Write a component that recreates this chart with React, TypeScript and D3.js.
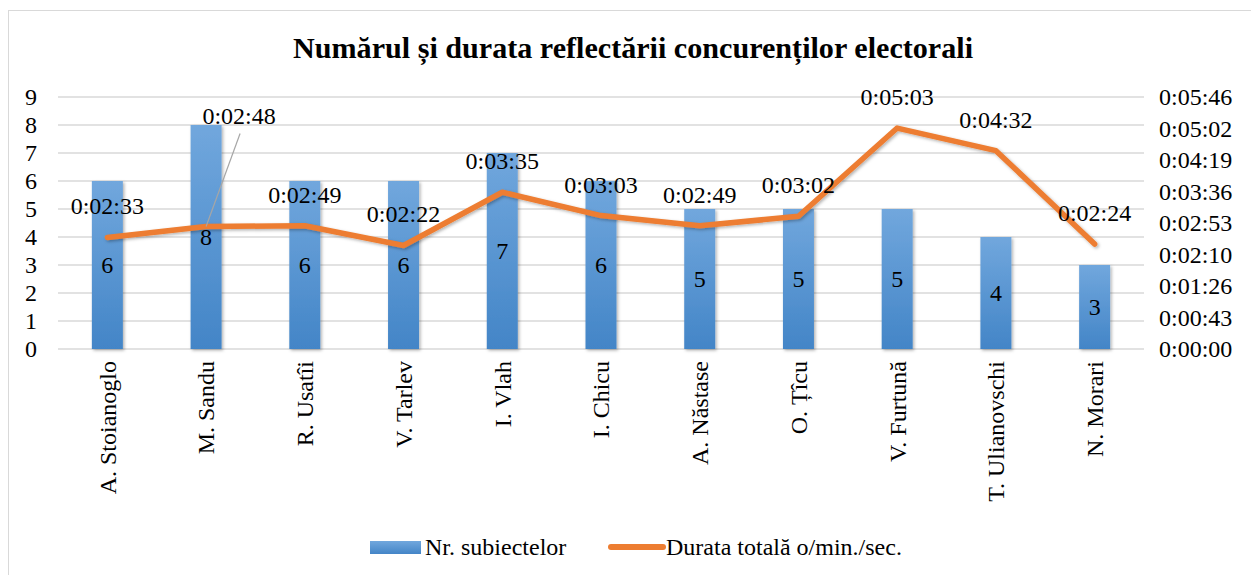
import * as d3 from "d3";

const title = "Numărul și durata reflectării concurenților electorali";
const candidates = [
  "A. Stoianoglo",
  "M. Sandu",
  "R. Usatîi",
  "V. Tarlev",
  "I. Vlah",
  "I. Chicu",
  "A. Năstase",
  "O. Țîcu",
  "V. Furtună",
  "T. Ulianovschi",
  "N. Morari",
];
const subjects = [6, 8, 6, 6, 7, 6, 5, 5, 5, 4, 3];
// total duration in seconds
const duration = [153, 168, 169, 142, 215, 183, 169, 182, 303, 272, 144];
const leftTicks = [0, 1, 2, 3, 4, 5, 6, 7, 8, 9];
const rightTickLabels = [
  "0:00:00",
  "0:00:43",
  "0:01:26",
  "0:02:10",
  "0:02:53",
  "0:03:36",
  "0:04:19",
  "0:05:02",
  "0:05:46",
];
const legendBar = "Nr. subiectelor";
const legendLine = "Durata totală o/min./sec.";

const W = 1251;
const H = 575;
const FONT = "'Liberation Serif', 'Times New Roman', 'DejaVu Serif', serif";
const plot = { left: 58, right: 1144, top: 97, bottom: 349 };
const rightMax = 345.6;

function fmt(sec: number) {
  const s = Math.round(sec);
  const h = Math.floor(s / 3600);
  const m = Math.floor((s % 3600) / 60);
  const r = s % 60;
  return `${h}:${String(m).padStart(2, "0")}:${String(r).padStart(2, "0")}`;
}

const txt = { fontFamily: FONT, fontSize: 24, fill: "#000" };

export default function App() {
  const x = d3
    .scaleBand<string>()
    .domain(candidates)
    .range([plot.left, plot.right])
    .paddingInner(0.686)
    .paddingOuter(0.343);
  const y = d3.scaleLinear().domain([0, 9]).range([plot.bottom, plot.top]);
  const y2 = d3.scaleLinear().domain([0, rightMax]).range([plot.bottom, plot.top]);
  const cx = (c: string) => (x(c) ?? 0) + x.bandwidth() / 2;

  const line = d3
    .line<number>()
    .x((_, i) => cx(candidates[i]))
    .y((d) => y2(d));

  return (
    <svg
      width={W}
      height={H}
      style={{ position: "absolute", left: 0, top: 0, background: "#fff", fontFamily: FONT }}
    >
      <defs>
        <linearGradient id="barGrad" x1="0" y1="0" x2="0" y2="1">
          <stop offset="0" stopColor="#71a7dd" />
          <stop offset="1" stopColor="#4385c7" />
        </linearGradient>
        <filter id="shadow" x="-30%" y="-10%" width="160%" height="130%">
          <feDropShadow dx="1.5" dy="1.5" stdDeviation="1.5" floodColor="#000" floodOpacity="0.3" />
        </filter>
      </defs>

      <rect x={8.5} y={10.5} width={W + 10} height={H + 10} fill="#fff" stroke="#d9d9d9" />

      <text
        x={633}
        y={58}
        textAnchor="middle"
        fontWeight="bold"
        style={{ ...txt, fontSize: 30 }}
        textLength={680}
        lengthAdjust="spacingAndGlyphs"
      >
        {title}
      </text>

      {leftTicks.map((t) => (
        <g key={t}>
          <line x1={plot.left} x2={plot.right} y1={y(t)} y2={y(t)} stroke="#d9d9d9" strokeWidth={1.5} />
          <text x={37} y={y(t)} dy="0.35em" textAnchor="end" style={txt}>
            {String(t)}
          </text>
        </g>
      ))}
      {rightTickLabels.map((t, i) => (
        <text key={t} x={1159} y={y2((i * rightMax) / 8)} dy="0.35em" style={txt}>
          {t}
        </text>
      ))}

      {candidates.map((c, i) => (
        <rect
          key={c}
          x={x(c)}
          y={y(subjects[i])}
          width={x.bandwidth()}
          height={plot.bottom - y(subjects[i])}
          fill="url(#barGrad)"
          filter="url(#shadow)"
        />
      ))}
      {candidates.map((c, i) => (
        <text key={c} x={cx(c)} y={(y(subjects[i]) + plot.bottom) / 2} dy="0.35em" textAnchor="middle" style={txt}>
          {String(subjects[i])}
        </text>
      ))}

      <path
        d={line(duration) ?? ""}
        fill="none"
        stroke="#ed7d31"
        strokeWidth={5.5}
        strokeLinecap="round"
        strokeLinejoin="round"
        filter="url(#shadow)"
      />

      {candidates.map((c, i) => {
        const px = cx(c);
        const py = y2(duration[i]);
        if (i === 1) {
          // label dragged away from the point, with a leader line
          const lx = px + 33;
          const ly = py - 103;
          return (
            <g key={c}>
              <line x1={lx + 1} y1={ly + 10} x2={px} y2={py} stroke="#a6a6a6" strokeWidth={1.2} />
              <text x={lx} y={ly} textAnchor="middle" style={txt}>
                {fmt(duration[i])}
              </text>
            </g>
          );
        }
        return (
          <text key={c} x={px} y={py - 23} textAnchor="middle" style={txt}>
            {fmt(duration[i])}
          </text>
        );
      })}

      {candidates.map((c) => (
        <text
          key={c}
          transform={`translate(${cx(c)},361) rotate(-90)`}
          dy="0.35em"
          textAnchor="end"
          style={txt}
        >
          {c}
        </text>
      ))}

      <g>
        <rect x={370} y={541} width={51} height={13} fill="url(#barGrad)" />
        <text x={425} y={555} style={txt}>
          {legendBar}
        </text>
        <line x1={611} x2={663} y1={547} y2={547} stroke="#ed7d31" strokeWidth={6} strokeLinecap="round" />
        <text x={666} y={555} style={txt}>
          {legendLine}
        </text>
      </g>
    </svg>
  );
}
